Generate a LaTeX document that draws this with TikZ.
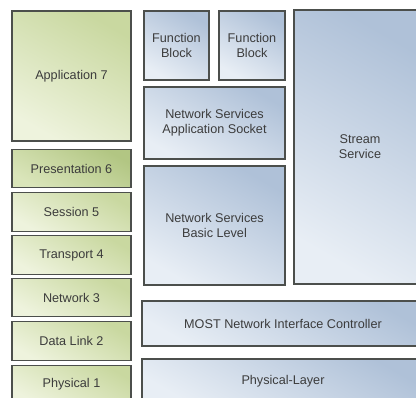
\documentclass[tikz,border=0pt]{standalone}
\usepackage{fontspec}
\setmainfont{Liberation Sans}
\usepackage{tikz}
\definecolor{osidark}{HTML}{C9D8A0}
\definecolor{osilight}{HTML}{EEF3DD}
\definecolor{presdark}{HTML}{B2C683}
\definecolor{preslight}{HTML}{DAE5BA}
\definecolor{mostdark}{HTML}{AFC1D8}
\definecolor{mostlight}{HTML}{E8EEF5}
\definecolor{edge}{HTML}{4C4F4C}
\definecolor{txt}{HTML}{3C3C3C}

\begin{document}
\begin{tikzpicture} [x = 0.025cm, y = -0.025cm,
  box/.style = {draw = edge, line width = .8pt, align = center, text = txt,
    font = \fontsize{9}{10.5}\selectfont, inner sep = 0pt},
  osi/.style = {box, top color = osidark, bottom color = osilight, shading angle = -30,
    minimum width = 2.975cm, minimum height = .9625cm},
  pres/.style = {osi, top color = presdark, bottom color = preslight, shading angle = -30},
  most/.style = {box, top color = mostdark, bottom color = mostlight, shading angle = -30}]
\path [use as bounding box, clip] (0,0) rectangle (416,398);
% OSI layers
\node[osi, minimum height = 3.25cm] (app) at (71.5,76) {Application 7};
\node[pres] (pres) at (71.5,168.5) {Presentation 6};
\node[osi] (sess) at (71.5,212) {Session 5};
\node[osi] (trans) at (71.5,255) {Transport 4};
\node[osi] (net) at (71.5,297.5) {Network 3};
\node[osi] (link) at (71.5,341) {Data Link 2};
\node[osi] (phys) at (71.5,384.5) {Physical 1};
% MOST stack
\node[most, minimum width = 1.625cm, minimum height = 1.725cm] (fb1) at (176.5,45.5) {Function\\Block};
\node[most, minimum width = 1.65cm, minimum height = 1.725cm] (fb2) at (252,45.5) {Function\\Block};
\node[most, minimum width = 3.525cm, minimum height = 1.8cm] (sock) at (214.5,123) {Network Services\\Application Socket};
\node[most, minimum width = 3.525cm, minimum height = 2.975cm] (basic) at (214.5,225.5) {Network Services\\Basic Level};
\node[most, minimum width = 3.3cm, minimum height = 6.85cm] (stream) at (360,147) {Stream\\Service};
\node[most, minimum width = 7.05cm, minimum height = 1.125cm] (nic) at (283,323.5) {MOST Network Interface Controller};
\node[most, minimum width = 7.05cm, minimum height = 1.125cm] (phy) at (283,381.5) {Physical-Layer};
\end{tikzpicture}
\end{document}
